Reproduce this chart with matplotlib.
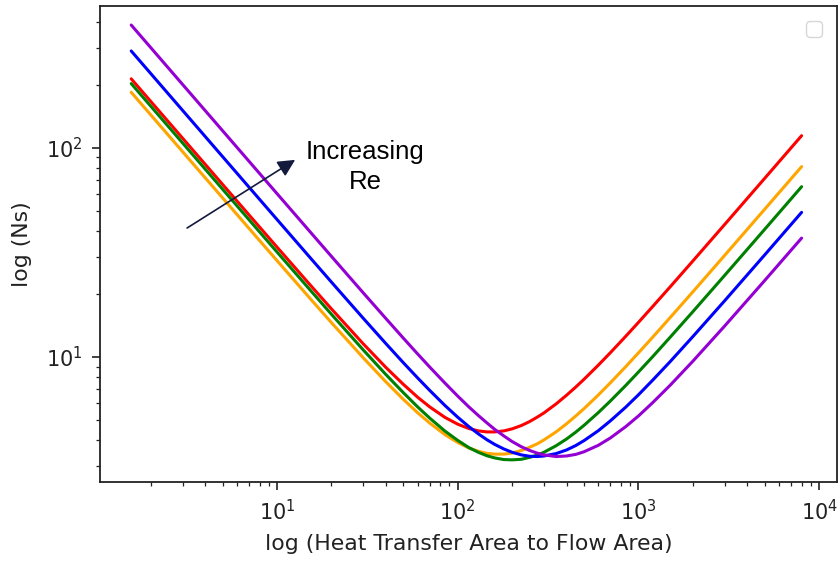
import matplotlib
matplotlib.use("Agg")
import matplotlib.pyplot as plt

# x: Heat transfer area to flow area ratio
area_ratio = [1.56, 2, 3, 5, 7, 10, 15, 20, 30, 40, 50, 60, 70, 85, 100, 115, 130,
              145, 160, 180, 200, 225, 250, 275, 300, 350, 400, 450, 500, 600, 700,
              850, 1000, 1200, 1500, 2000, 3000, 5000, 8000]

ns_red = [214.1, 167.0, 111.4, 66.87, 47.81, 33.54, 22.48, 16.99, 11.56, 8.92, 7.40,
          6.42, 5.77, 5.14, 4.77, 4.55, 4.43, 4.38, 4.38, 4.43, 4.53, 4.70, 4.91,
          5.15, 5.40, 5.96, 6.56, 7.18, 7.82, 9.14, 10.49, 12.55, 14.63, 17.44,
          21.67, 28.77, 43.01, 71.57, 114.44]
ns_orange = [184.6, 144.0, 96.03, 57.65, 41.21, 28.90, 19.35, 14.60, 9.91, 7.61, 6.27,
             5.41, 4.83, 4.25, 3.90, 3.67, 3.54, 3.46, 3.43, 3.43, 3.47, 3.57, 3.70,
             3.84, 4.01, 4.38, 4.79, 5.22, 5.66, 6.58, 7.53, 8.98, 10.46, 12.44,
             15.45, 20.48, 30.61, 50.91, 81.40]
ns_green = [203.2, 158.5, 105.69, 63.44, 45.34, 31.78, 21.26, 16.01, 10.81, 8.25, 6.75,
            5.77, 5.10, 4.42, 3.99, 3.69, 3.50, 3.37, 3.29, 3.23, 3.22, 3.24, 3.31,
            3.39, 3.50, 3.76, 4.05, 4.37, 4.71, 5.42, 6.16, 7.30, 8.47, 10.04,
            12.44, 16.46, 24.56, 40.81, 65.24]
ns_blue = [291.0, 227.0, 151.35, 90.83, 64.90, 45.46, 30.36, 22.82, 15.32, 11.60, 9.39,
           7.94, 6.92, 5.86, 5.15, 4.65, 4.29, 4.02, 3.82, 3.63, 3.50, 3.40, 3.35,
           3.34, 3.36, 3.45, 3.59, 3.77, 3.98, 4.44, 4.95, 5.75, 6.59, 7.75,
           9.51, 12.51, 18.57, 30.79, 49.18]
ns_purple = [387.2, 302.0, 201.35, 120.82, 86.32, 60.45, 40.34, 30.29, 20.27, 15.29, 12.31,
             10.34, 8.95, 7.50, 6.50, 5.78, 5.25, 4.84, 4.51, 4.19, 3.94, 3.72, 3.57,
             3.47, 3.40, 3.34, 3.36, 3.42, 3.52, 3.78, 4.10, 4.64, 5.22, 6.05,
             7.33, 9.54, 14.06, 23.22, 37.04]

series = [ns_red, ns_orange, ns_green, ns_blue, ns_purple]
colors = ["red", "orange", "green", "blue", "darkviolet"]

x_label = "log (Heat Transfer Area to Flow Area)"
y_label = "log (Ns)"
annot_text = "Increasing\nRe"

fs_tick = 15
fs_lab = 15.8
fig = plt.figure(figsize=(8.4, 5.63), dpi=100)
ax = fig.add_axes([100/840, 1-482/563, 737/840, 476/563])

for ys, c in zip(series, colors):
    ax.plot(area_ratio, ys, color=c, lw=2.2, solid_joinstyle="round",
            solid_capstyle="round")

ax.set_xscale("log")
ax.set_yscale("log")
ax.set_xlim(1.048, 12560)
ax.set_ylim(2.523, 477.5)

ax.tick_params(which="major", length=5.5, width=1.2, labelsize=fs_tick,
               colors="#222222", pad=7)
ax.tick_params(which="minor", length=3.2, width=0.9, colors="#222222")
for s in ax.spines.values():
    s.set_linewidth(1.3)
    s.set_color("#222222")

ax.set_xlabel(x_label, fontsize=fs_lab, color="#222222", labelpad=7)
ax.set_ylabel(y_label, fontsize=fs_lab, color="#222222", labelpad=10)

# empty legend box (no labelled artists)
leg = ax.legend(handles=[], loc="upper right", fontsize=fs_tick, borderaxespad=0.7)
leg.get_frame().set_edgecolor("#cccccc")

ax.annotate("", xy=(12.6, 87.7), xytext=(3.18, 41.4),
            arrowprops=dict(arrowstyle="-|>", color="#141a3c", lw=1.2,
                            mutation_scale=26, shrinkA=0, shrinkB=0))
ax.text(30.7, 81.0, annot_text, ha="center", va="center",
        fontsize=18.5, family="Liberation Sans", color="black", linespacing=1.3)

fig.savefig("out.png", dpi=100)
